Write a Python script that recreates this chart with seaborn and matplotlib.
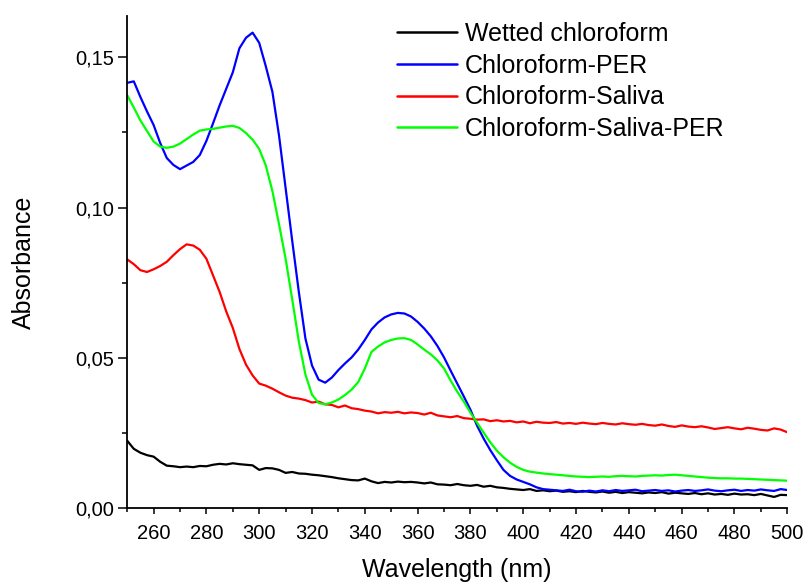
import numpy as np
import pandas as pd
import matplotlib
matplotlib.use("Agg")
import matplotlib.pyplot as plt
import seaborn as sns
from matplotlib.ticker import MultipleLocator, FixedLocator

wavelength = np.arange(250, 500.01, 2.5)

series_names = ["Wetted chloroform", "Chloroform-PER", "Chloroform-Saliva", "Chloroform-Saliva-PER"]
series_colors = ["#000000", "#0000ff", "#ff0000", "#00ff00"]

wetted_chloroform = [
    .0225, .0198, .0185, .0177, .0172, .0155, .0142, .0140, .0137, .0139,
    .0137, .0141, .0140, .0145, .0148, .0146, .0150, .0147, .0145, .0143,
    .0128, .0134, .0133, .0128, .0118, .0121, .0116, .0115, .0112, .0110,
    .0107, .0104, .0100, .0097, .0094, .0093, .0099, .0090, .0084, .0088,
    .0086, .0089, .0087, .0088, .0086, .0083, .0086, .0080, .0079, .0077,
    .0081, .0077, .0075, .0078, .0072, .0075, .0070, .0068, .0065, .0063,
    .0061, .0064, .0058, .0060, .0057, .0059, .0055, .0057, .0054, .0058,
    .0055, .0053, .0056, .0052, .0055, .0051, .0054, .0052, .0050, .0053,
    .0051, .0054, .0049, .0052, .0050, .0048, .0051, .0047, .0050, .0046,
    .0048, .0045, .0049, .0046, .0047, .0044, .0048, .0043, .0038, .0045,
    .0044]

chloroform_per = [
    .1415, .1420, .1368, .1320, .1275, .1215, .1165, .1142, .1128, .1140,
    .1152, .1175, .1222, .1280, .1340, .1395, .1450, .1530, .1565, .1582,
    .1548, .1470, .1385, .1240, .1065, .0890, .0720, .0565, .0475, .0428,
    .0418, .0435, .0460, .0482, .0502, .0528, .0560, .0595, .0618, .0635,
    .0645, .0650, .0648, .0638, .0620, .0598, .0572, .0540, .0502, .0458,
    .0415, .0372, .0328, .0275, .0232, .0194, .0160, .0128, .0108, .0096,
    .0088, .0080, .0070, .0064, .0062,
    .0060, .0058, .0062, .0057, .0055, .0059, .0056, .0060, .0057, .0061,
    .0058, .0060, .0062, .0057, .0059, .0061, .0058, .0060, .0056, .0059,
    .0061, .0058, .0060, .0063, .0059, .0057, .0060, .0062, .0058, .0061,
    .0059, .0063, .0060, .0058, .0064, .0061]

chloroform_saliva = [
    .0828, .0812, .0792, .0786, .0795, .0806, .0820, .0842, .0862, .0878,
    .0874, .0860, .0830, .0775, .0720, .0655, .0600, .0530, .0478, .0442,
    .0415, .0408, .0398, .0386, .0375, .0368, .0365, .0360, .0352, .0355,
    .0346, .0344, .0336, .0342, .0333, .0330, .0325, .0322, .0316, .0320,
    .0318, .0321, .0316, .0319, .0317, .0312, .0318, .0309, .0306, .0303,
    .0307, .0300, .0298, .0295, .0296, .0290, .0293, .0289, .0291, .0286,
    .0289, .0283, .0288, .0285, .0284, .0287, .0282, .0284, .0281, .0285,
    .0282, .0280, .0284, .0281, .0279, .0283, .0280, .0278, .0281, .0277,
    .0275, .0279, .0274, .0271, .0276, .0272, .0270, .0273, .0269, .0264,
    .0267, .0270, .0266, .0263, .0268, .0265, .0261, .0259, .0266, .0262,
    .0253]

chloroform_saliva_per = [
    .1374, .1333, .1290, .1255, .1220, .1203, .1199, .1203, .1213, .1228,
    .1243, .1256, .1260, .1262, .1266, .1270, .1272, .1265, .1248, .1226,
    .1195, .1140, .1055, .0945, .0830, .0695, .0555, .0445, .0378, .0350,
    .0346, .0352, .0362, .0377, .0395, .0420, .0465, .0520, .0538, .0552,
    .0560, .0565, .0566, .0560, .0545, .0528, .0512, .0492, .0465, .0425,
    .0388, .0355, .0318, .0285, .0252, .0220, .0192, .0170, .0152, .0138,
    .0128, .0122, .0119, .0116, .0114,
    .0112, .0110, .0108, .0106, .0105, .0104, .0105, .0106, .0105, .0107,
    .0108, .0107, .0106, .0108, .0109, .0110, .0109, .0111, .0112, .0110,
    .0108, .0106, .0104, .0102, .0101, .0100, .0100, .0099, .0099, .0098,
    .0097, .0096, .0095, .0094, .0093, .0092]

x_ticks = [260, 280, 300, 320, 340, 360, 380, 400, 420, 440, 460, 480, 500]
y_ticks = [0.00, 0.05, 0.10, 0.15]
y_tick_labels = ["0,00", "0,05", "0,10", "0,15"]

all_values = [wetted_chloroform, chloroform_per, chloroform_saliva, chloroform_saliva_per]
frames = []
for name, vals in zip(series_names, all_values):
    assert len(vals) == len(wavelength), (name, len(vals))
    frames.append(pd.DataFrame({"Wavelength": wavelength, "Absorbance": vals, "Sample": name}))
df = pd.concat(frames, ignore_index=True)

sns.set_theme(style="white")
plt.rcParams["font.family"] = ["Liberation Sans", "DejaVu Sans"]
plt.rcParams["text.color"] = "black"
plt.rcParams["axes.labelcolor"] = "black"
plt.rcParams["xtick.color"] = "black"
plt.rcParams["ytick.color"] = "black"

fig = plt.figure(figsize=(8.05, 5.85), dpi=100)
ax = fig.add_axes([0.158, 0.131, 0.820, 0.842])

sns.lineplot(data=df, x="Wavelength", y="Absorbance", hue="Sample",
             hue_order=series_names, palette=series_colors, estimator=None,
             sort=False, linewidth=1.6, ax=ax)

ax.set_xlim(250, 500)
ax.set_ylim(0, 0.1638)
ax.xaxis.set_major_locator(FixedLocator(x_ticks))
ax.xaxis.set_minor_locator(MultipleLocator(10))
ax.yaxis.set_major_locator(FixedLocator(y_ticks))
ax.set_yticklabels(y_tick_labels)
ax.yaxis.set_minor_locator(MultipleLocator(0.025))

for s in ["top", "right"]:
    ax.spines[s].set_visible(False)
for s in ["left", "bottom"]:
    ax.spines[s].set_color("black")
    ax.spines[s].set_linewidth(1.3)

ax.tick_params(axis="both", which="both", direction="out", color="black", width=1.1,
               labelsize=14.5, labelcolor="black")
ax.tick_params(axis="y", which="major", length=6.5, pad=3)
ax.tick_params(axis="y", which="minor", length=3.5)
ax.tick_params(axis="x", which="major", length=4, pad=7)
ax.tick_params(axis="x", which="minor", length=3)
ax.tick_params(left=True, bottom=True, which="both")

ax.set_xlabel("Wavelength (nm)", fontsize=18, labelpad=11, color="black")
ax.set_ylabel("Absorbance", fontsize=18, labelpad=28, color="black")

leg = ax.legend(loc="upper left", bbox_to_anchor=(0.393, 1.008), frameon=False,
                fontsize=18, handlelength=2.4, handletextpad=0.32,
                labelspacing=0.31, borderaxespad=0)
for line in leg.get_lines():
    line.set_linewidth(1.8)
for t in leg.get_texts():
    t.set_color("black")

fig.savefig("out.png", dpi=100)
